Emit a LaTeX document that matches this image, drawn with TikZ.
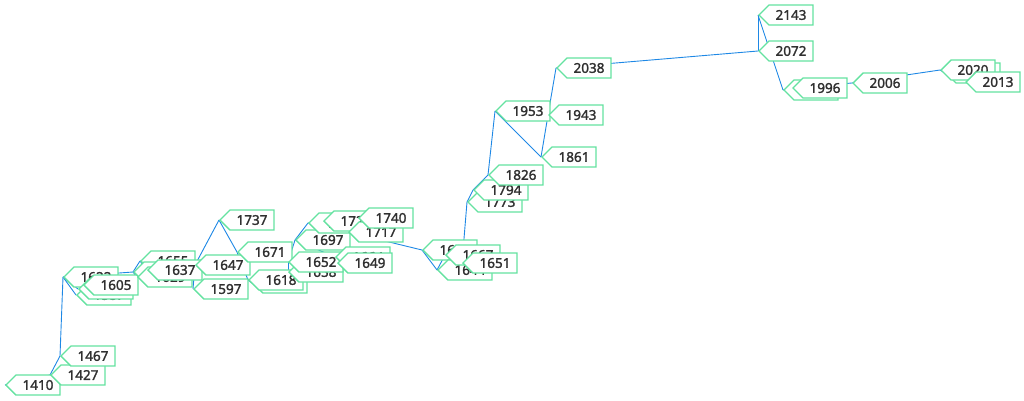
\documentclass[tikz,border=0pt]{standalone}
\usepackage{fontspec}
\setmainfont{Noto Sans}
\newfontfamily\tagfont{Noto Sans}[FakeBold=1.6]
\usetikzlibrary{shapes.symbols,backgrounds}
\definecolor{tagc}{RGB}{100,226,160}
\definecolor{edgec}{RGB}{30,136,229}
\definecolor{txtc}{RGB}{48,48,48}
\tikzset{
  tag/.style={signal, signal to=west, signal from=nowhere, draw=tagc, fill=white,
    line width=1.4pt, minimum width=54pt, minimum height=20pt, inner xsep=4pt, inner ysep=0pt,
    font=\tagfont\fontsize{13.5}{14}\selectfont, text=txtc, anchor=west},
  edge/.style={draw=edgec, line width=0.9pt}
}
\begin{document}
\begin{tikzpicture}[x=1pt,y=-1pt]
\useasboundingbox (0,0) rectangle (1024,400);
\node[tag] (n1410) at (5,385) {1410};
\node[tag] (n1427) at (50,375) {1427};
\node[tag] (n1467) at (60,356) {1467};
\node[tag] (n1622) at (63,277) {1622};
\node[tag] (n1587) at (76,295) {1587};
\node[tag] (n1612) at (78,289) {1612};
\node[tag] (n1605) at (83,285) {1605};
\node[tag] (n1655) at (140,261) {1655};
\node[tag] (n1633) at (133,272) {1633};
\node[tag] (n1629) at (137,277) {1629};
\node[tag] (n1637) at (147,270) {1637};
\node[tag] (n1597) at (193,289) {1597};
\node[tag] (n1647) at (195,265) {1647};
\node[tag] (n1737) at (219,220) {1737};
\node[tag] (n1671) at (237,252) {1671};
\node[tag] (n1620) at (252,283) {1620};
\node[tag] (n1618) at (248,280) {1618};
\node[tag] (n1658) at (288,272) {1658};
\node[tag] (n1697) at (295,240) {1697};
\node[tag] (n1652) at (288,262) {1652};
\node[tag] (n1664) at (335,257) {1664};
\node[tag] (n1649) at (337,263) {1649};
\node[tag] (n1709) at (308,223) {1709};
\node[tag] (n1723) at (323,221) {1723};
\node[tag] (n1717) at (348,232) {1717};
\node[tag] (n1740) at (358,218) {1740};
\node[tag] (n1685) at (422,250) {1685};
\node[tag] (n1644) at (437,270) {1644};
\node[tag] (n1667) at (445,255) {1667};
\node[tag] (n1651) at (462,263) {1651};
\node[tag] (n1773) at (467,202) {1773};
\node[tag] (n1794) at (473,190) {1794};
\node[tag] (n1826) at (488,175) {1826};
\node[tag] (n1861) at (541,157) {1861};
\node[tag] (n1953) at (495,111) {1953};
\node[tag] (n1943) at (548,115) {1943};
\node[tag] (n2038) at (556,68) {2038};
\node[tag] (n2143) at (758,15) {2143};
\node[tag] (n2072) at (758,51) {2072};
\node[tag] (n1990) at (783,90) {1990};
\node[tag] (n1996) at (792,88) {1996};
\node[tag] (n2006) at (852,83) {2006};
\node[tag] (n2017) at (945,73) {2017};
\node[tag] (n2020) at (940,70) {2020};
\node[tag] (n2013) at (965,82) {2013};
\begin{scope}[on background layer]
\draw[edge] (n1410.west) -- (n1427.west);
\draw[edge] (n1427.west) -- (n1467.west);
\draw[edge] (n1467.west) -- (n1622.west);
\draw[edge] (n1622.west) -- (n1587.west);
\draw[edge] (n1622.west) -- (n1612.west);
\draw[edge] (n1622.west) -- (n1605.west);
\draw[edge] (n1622.west) -- (n1633.west);
\draw[edge] (n1633.west) -- (n1655.west);
\draw[edge] (n1633.west) -- (n1629.west);
\draw[edge] (n1655.west) -- (n1637.west);
\draw[edge] (n1655.west) -- (n1647.west);
\draw[edge] (n1647.west) -- (n1597.west);
\draw[edge] (n1737.west) -- (n1647.west);
\draw[edge] (n1737.west) -- (n1671.west);
\draw[edge] (n1671.west) -- (n1618.west);
\draw[edge] (n1618.west) -- (n1620.west);
\draw[edge] (n1618.west) -- (n1658.west);
\draw[edge] (n1658.west) -- (n1652.west);
\draw[edge] (n1652.west) -- (n1697.west);
\draw[edge] (n1697.west) -- (n1709.west);
\draw[edge] (n1697.west) -- (n1664.west);
\draw[edge] (n1664.west) -- (n1649.west);
\draw[edge] (n1709.west) -- (n1723.west);
\draw[edge] (n1723.west) -- (n1740.west);
\draw[edge] (n1723.west) -- (n1717.west);
\draw[edge] (n1717.west) -- (n1685.west);
\draw[edge] (n1685.west) -- (n1644.west);
\draw[edge] (n1644.west) -- (n1667.west);
\draw[edge] (n1667.west) -- (n1651.west);
\draw[edge] (n1651.west) -- (n1773.west);
\draw[edge] (n1773.west) -- (n1794.west);
\draw[edge] (n1794.west) -- (n1826.west);
\draw[edge] (n1826.west) -- (n1953.west);
\draw[edge] (n1953.west) -- (n1861.west);
\draw[edge] (n1861.west) -- (n1943.west);
\draw[edge] (n1943.west) -- (n2038.west);
\draw[edge] (n2038.west) -- (n2072.west);
\draw[edge] (n2072.west) -- (n2143.west);
\draw[edge] (n2143.west) -- (n1990.west);
\draw[edge] (n1990.west) -- (n1996.west);
\draw[edge] (n1996.west) -- (n2006.west);
\draw[edge] (n2006.west) -- (n2020.west);
\draw[edge] (n2020.west) -- (n2017.west);
\draw[edge] (n2017.west) -- (n2013.west);
\end{scope}
\end{tikzpicture}
\end{document}
